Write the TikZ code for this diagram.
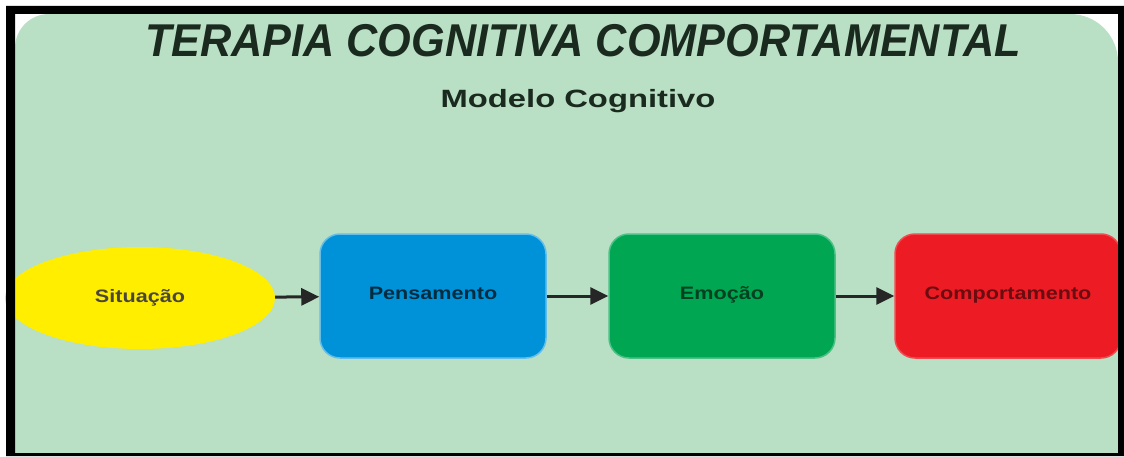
\documentclass[tikz,border=0pt]{standalone}
\usepackage{fontspec}
\setmainfont{Liberation Sans}
\usetikzlibrary{shapes.geometric,arrows.meta}
\definecolor{painel}{HTML}{B9E0C5}
\definecolor{tinta}{HTML}{1B2A1F}
\definecolor{amarelo}{HTML}{FFEE00}
\definecolor{azul}{HTML}{0092D8}
\definecolor{verde}{HTML}{00A651}
\definecolor{vermelho}{HTML}{ED1C24}
\newcommand{\rotulo}[1]{\raisebox{5pt}{\scalebox{1.2}[1]{#1}}}
\begin{document}
\begin{tikzpicture}[x=1pt,y=1pt,
	caixa/.style={rectangle,rounded corners=20pt,minimum width=226pt,minimum height=124pt,line width=1.5pt,font=\fontsize{18}{18}\selectfont\bfseries},
	seta/.style={line width=3pt,color=black!85,-{Triangle[length=18pt,width=17pt]}}]
		\useasboundingbox (0,0) rectangle (1124,456);
		\fill[painel] (15,3) -- (15,408) arc[start angle=180,end angle=90,radius=34] -- (1070,442) arc[start angle=90,end angle=0,radius=48] -- (1118,3) -- cycle;
		\node[anchor=base,text=tinta,font=\fontsize{46}{46}\selectfont\bfseries\itshape] (titulo) at (583,399) {\scalebox{0.94}[1]{TERAPIA COGNITIVA COMPORTAMENTAL}};
		\node[anchor=base,text=tinta,font=\fontsize{25}{25}\selectfont\bfseries] (modelo) at (578,348) {\scalebox{1.31}[1]{Modelo Cognitivo}};
		\node[ellipse,fill=amarelo,inner sep=0pt,minimum width=270pt,minimum height=102pt,text=black!70!yellow!60!black,font=\fontsize{18}{18}\selectfont\bfseries] (sit) at (140,158) {\rotulo{Situação}};
		\node[caixa,fill=azul,draw=azul!60!white,text=azul!30!black] (pens) at (433,160) {\rotulo{Pensamento}};
		\node[caixa,fill=verde,draw=verde!70!white,text=verde!40!black] (emoc) at (722,160) {\rotulo{Emoção}};
		\node[caixa,fill=vermelho,draw=vermelho!80!white,text=vermelho!45!black] (comp) at (1008,160) {\rotulo{Comportamento}};
		\draw[seta] (sit) -- (pens);
		\draw[seta] (pens) -- (emoc);
		\draw[seta] (emoc) -- (comp);
		\fill[black,even odd rule] (6,0) rectangle (1124,450) (15,3) rectangle (1118,442);
	\end{tikzpicture}
\end{document}
